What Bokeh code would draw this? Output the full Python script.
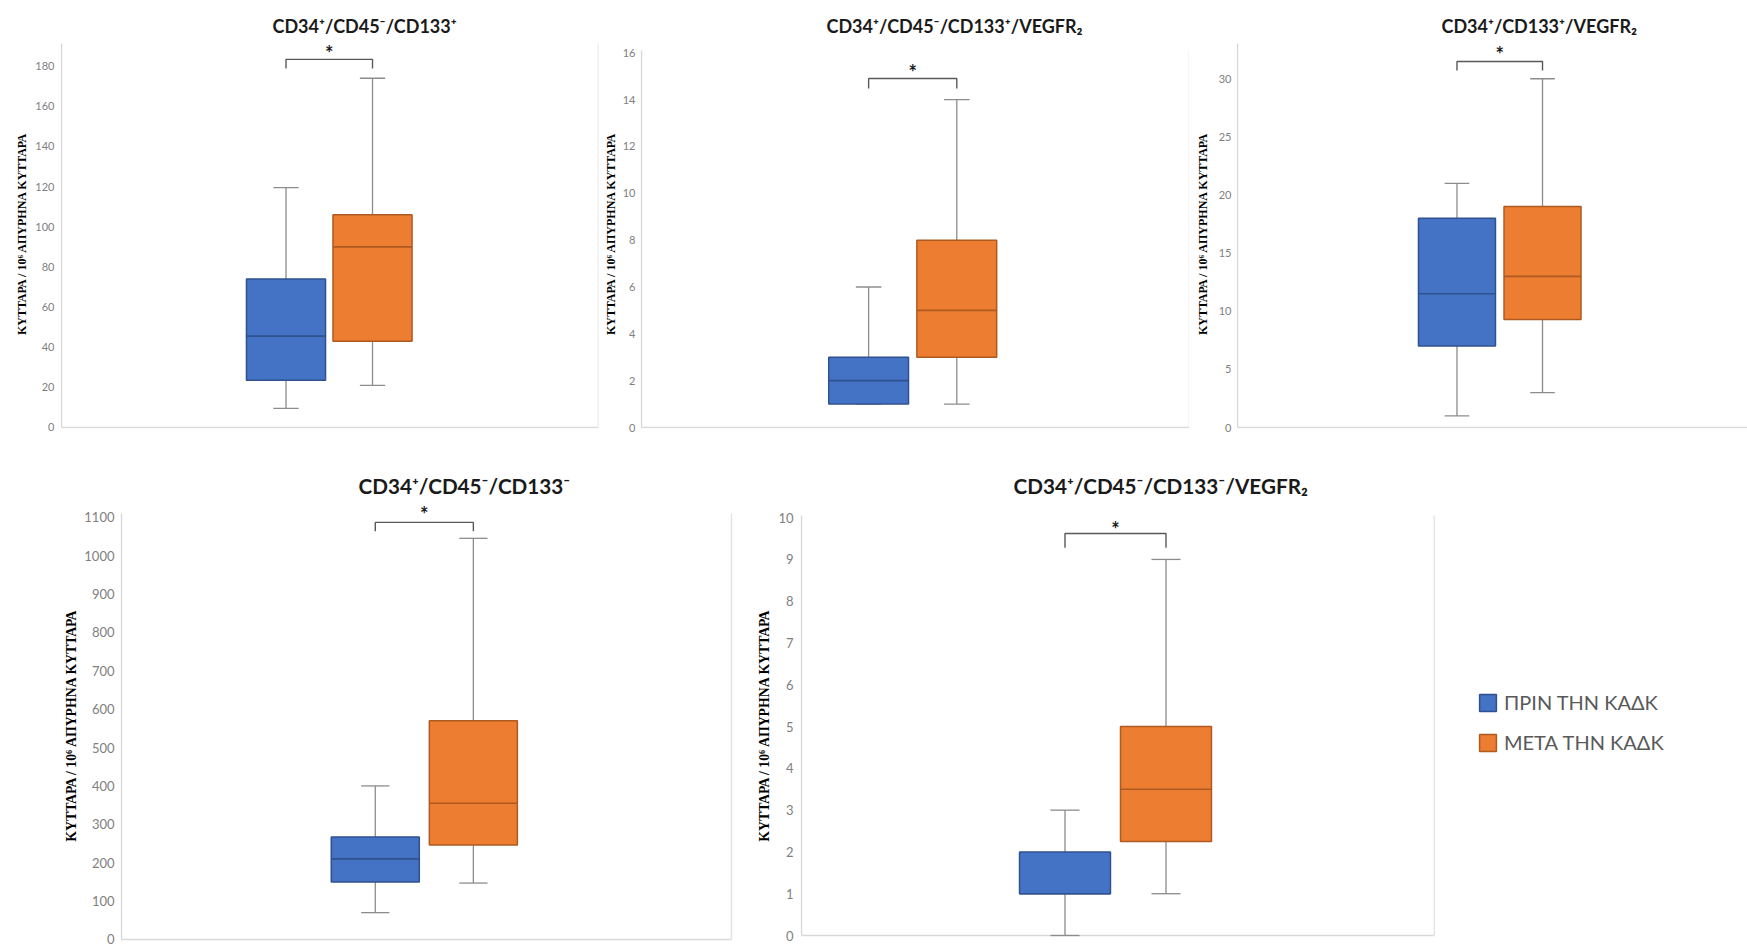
from bokeh.plotting import figure
from bokeh.models import Range1d, FixedTicker, ColumnDataSource, Legend, LegendItem
from bokeh.layouts import column, row
from bokeh.embed import file_html
from bokeh.resources import INLINE
from bokeh.core.properties import value

# ---------------- data ----------------
categories = ["ΠΡΙΝ ΤΗΝ ΚΑΔΚ", "ΜΕΤΑ ΤΗΝ ΚΑΔΚ"]
titles = [
    "CD34⁺/CD45⁻/CD133⁺",
    "CD34⁺/CD45⁻/CD133⁺/VEGFR₂",
    "CD34⁺/CD133⁺/VEGFR₂",
    "CD34⁺/CD45⁻/CD133⁻",
    "CD34⁺/CD45⁻/CD133⁻/VEGFR₂",
]
y_label = "ΚΥΤΤΑΡΑ / 10⁶ ΑΠΥΡΗΝΑ ΚΥΤΤΑΡΑ"

# five-number summaries: lower whisker, Q1, median, Q3, upper whisker
p1_before = [9.5, 23.5, 45.5, 74, 119.5]
p1_after = [21, 43, 90, 106, 174]
p2_before = [1, 1, 2, 3, 6]
p2_after = [1, 3, 5, 8, 14]
p3_before = [1, 7, 11.5, 18, 21]
p3_after = [3, 9.3, 13, 19, 30]
p4_before = [70, 150, 210, 267, 400]
p4_after = [147, 246, 355, 570, 1045]
p5_before = [0, 1, 1, 2, 3]
p5_after = [1, 2.25, 3.5, 5, 9]

p1_ticks = [0, 20, 40, 60, 80, 100, 120, 140, 160, 180]
p2_ticks = [0, 2, 4, 6, 8, 10, 12, 14, 16]
p3_ticks = [0, 5, 10, 15, 20, 25, 30]
p4_ticks = [0, 100, 200, 300, 400, 500, 600, 700, 800, 900, 1000, 1100]
p5_ticks = [0, 1, 2, 3, 4, 5, 6, 7, 8, 9, 10]

significance = ["*", "*", "*", "*", "*"]

# ---------------- style ----------------
FILL = ["#4472C4", "#ED7D31"]
EDGE = ["#2F528F", "#AE5A21"]
WHISK = "#8C8C8C"
AXIS = "#D9D9D9"
BORDER = "#E4E4E4"

layouts = [
    dict(w=600, h=440, mb=(60, 2, 38, 12), yr=(-0.5, 193.8), atop=191.3, c=0.4977, s=0.0804, bw=0.147,
         lend=0.998, border=True, br=(178.9, 183.4), ast=186.6, toff=212, ts=18, ks=11, ls=12, lst=3, kst=6, tso=4),
    dict(w=589, h=440, mb=(40, 0, 38, 12), yr=(-0.0426, 16.61), atop=16.1, c=0.494, s=0.0803, bw=0.1454,
         lend=0.998, border=True, br=(14.48, 14.9), ast=15.18, toff=186, ts=18, ks=11, ls=12, lst=2, kst=5, tso=4),
    dict(w=558, h=440, mb=(47, 0, 38, 12), yr=(-0.0858, 33.46), atop=33.03, c=0.5132, s=0.0837, bw=0.1507,
         lend=1.0, border=False, br=(30.7, 31.48), ast=32.1, toff=205, ts=18, ks=11, ls=12, lst=6, kst=5, tso=4),
    dict(w=735, h=509, mb=(120, 2, 60, 0), yr=(-26.05, 1143.5), atop=1109.4, c=0.494, s=0.080, bw=0.1436,
         lend=0.995, border=True, br=(1063.4, 1086.4), ast=1108, toff=238, ts=20.7, ks=13, ls=13.8, lst=2, kst=6, tso=5),
    dict(w=702, h=509, mb=(65, 1, 60, 0), yr=(-0.335, 10.41), atop=10.05, c=0.4937, s=0.0794, bw=0.143,
         lend=0.995, border=True, br=(9.28, 9.62), ast=9.73, toff=213, ts=20.7, ks=13, ls=13.8, lst=3, kst=7, tso=5),
]

series = [(p1_before, p1_after), (p2_before, p2_after), (p3_before, p3_after),
          (p4_before, p4_after), (p5_before, p5_after)]
tick_sets = [p1_ticks, p2_ticks, p3_ticks, p4_ticks, p5_ticks]


def make_panel(i):
    L = layouts[i]
    before, after = series[i]
    fw = L["w"] - L["mb"][0] - L["mb"][1]
    eps = 1.0 / fw
    p = figure(width=L["w"], height=L["h"],
               x_range=Range1d(-eps, 1 - eps), y_range=Range1d(*L["yr"]),
               toolbar_location=None, output_backend="svg",
               x_axis_location=None, y_axis_location="left",
               min_border_left=L["mb"][0], min_border_right=L["mb"][1],
               min_border_top=L["mb"][2], min_border_bottom=L["mb"][3],
               title=titles[i])
    p.outline_line_color = None
    p.grid.visible = False
    p.background_fill_color = "white"
    p.border_fill_color = "white"

    t = p.title
    t.align = "left"
    t.offset = L["toff"]
    t.text_font = "Lato"
    t.text_font_style = "bold"
    t.text_font_size = f"{L['ts']}px"
    t.text_color = "#1a1a1a"
    t.standoff = L["tso"]

    ax = p.yaxis[0]
    ax.ticker = FixedTicker(ticks=tick_sets[i])
    ax.axis_line_color = None
    ax.major_tick_line_color = None
    ax.minor_tick_line_color = None
    ax.major_tick_out = 0
    ax.major_tick_in = 0
    ax.major_label_text_font = "Lato"
    ax.major_label_text_font_size = f"{L['ks']}px"
    ax.major_label_text_color = "#808080"
    ax.major_label_standoff = L["kst"]
    ax.axis_label = y_label
    ax.axis_label_text_font = "Liberation Serif"
    ax.axis_label_text_font_style = "bold"
    ax.axis_label_text_font_size = f"{L['ls']}px"
    ax.axis_label_text_color = "#000000"
    ax.axis_label_standoff = L["lst"]

    # axis lines of the plot area
    p.segment(x0=[0, 0], y0=[0, 0], x1=[0, L["lend"]], y1=[L["atop"], 0],
              line_color=AXIS, line_width=1.5)
    if L["border"]:
        p.segment(x0=[L["lend"]], y0=[0], x1=[L["lend"]], y1=[L["atop"]],
                  line_color=BORDER, line_width=1.5)

    centers = [L["c"] - L["s"], L["c"] + L["s"]]
    bw = L["bw"]
    cw = bw * 0.32
    stats = [before, after]
    src = ColumnDataSource(dict(
        x=centers,
        lo=[s[0] for s in stats], q1=[s[1] for s in stats], med=[s[2] for s in stats],
        q3=[s[3] for s in stats], hi=[s[4] for s in stats],
        l=[c - bw / 2 for c in centers], r=[c + bw / 2 for c in centers],
        cl=[c - cw / 2 for c in centers], cr=[c + cw / 2 for c in centers],
        fill=FILL, edge=EDGE))
    # whiskers
    p.segment(x0="x", y0="q3", x1="x", y1="hi", source=src, line_color=WHISK, line_width=1.3)
    p.segment(x0="x", y0="q1", x1="x", y1="lo", source=src, line_color=WHISK, line_width=1.3)
    p.segment(x0="cl", y0="hi", x1="cr", y1="hi", source=src, line_color=WHISK, line_width=1.3)
    p.segment(x0="cl", y0="lo", x1="cr", y1="lo", source=src, line_color=WHISK, line_width=1.3)
    # boxes and medians
    p.quad(left="l", right="r", bottom="q1", top="q3", source=src,
           fill_color="fill", line_color="edge", line_width=1.5)
    p.segment(x0="l", y0="med", x1="r", y1="med", source=src, line_color="edge", line_width=1.6)

    # significance bracket
    tip, bar = L["br"]
    p.multi_line(xs=[[centers[0], centers[0], centers[1], centers[1]]],
                 ys=[[tip, bar, bar, tip]], line_color="#595959", line_width=1.4)
    p.text(x=[(centers[0] + centers[1]) / 2], y=[L["ast"]], text=[significance[i]],
           text_font=value("Lato"), text_font_style="bold", text_font_size="20px",
           text_align="center", text_baseline="middle", text_color="#1a1a1a")
    return p


panels = [make_panel(i) for i in range(5)]

# legend panel (its frame is aligned with the neighbouring panels' frames)
pl = figure(width=310, height=509, x_range=Range1d(0, 1), y_range=Range1d(0, 1),
            toolbar_location=None, output_backend="svg",
            x_axis_location=None, y_axis_location=None,
            min_border_left=0, min_border_right=0, min_border_top=60, min_border_bottom=0)
pl.outline_line_color = None
pl.grid.visible = False
pl.background_fill_color = "white"
pl.border_fill_color = "white"
# legend proxies kept outside the visible range
rb = pl.quad(left=[5], right=[6], bottom=[5], top=[6], fill_color=FILL[0], line_color=EDGE[0], line_width=1.5)
ro = pl.quad(left=[5], right=[6], bottom=[5], top=[6], fill_color=FILL[1], line_color=EDGE[1], line_width=1.5)
legend = Legend(items=[LegendItem(label=categories[0], renderers=[rb]),
                       LegendItem(label=categories[1], renderers=[ro])],
                location=(40, 195), glyph_width=21, glyph_height=21,
                label_standoff=6, spacing=16, padding=0, margin=0,
                border_line_color=None, background_fill_alpha=0,
                label_text_font="Lato", label_text_font_size="20px",
                label_text_color="#595959")
pl.add_layout(legend)

layout = column(row(panels[0], panels[1], panels[2]), row(panels[3], panels[4], pl))

open("out.html", "w").write(file_html(layout, INLINE))
